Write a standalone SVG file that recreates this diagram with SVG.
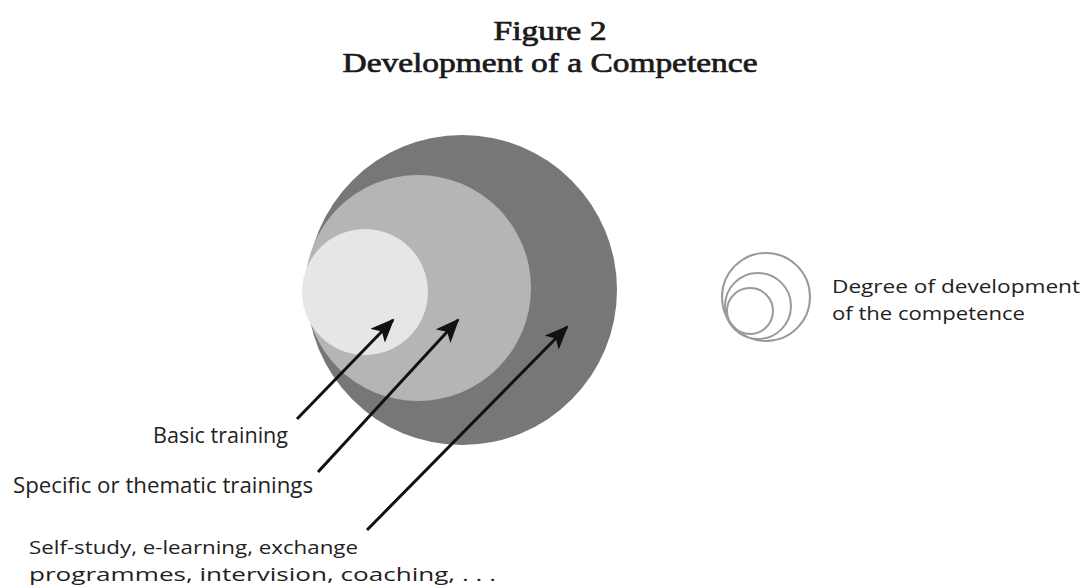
<svg xmlns="http://www.w3.org/2000/svg" width="1086" height="587" viewBox="0 0 1086 587">
<style>
.title{font-family:"Liberation Serif","DejaVu Serif",serif;font-size:27px;font-weight:normal;fill:#1a1a1a;stroke:#1a1a1a;stroke-width:0.7;text-anchor:middle}
.lbl{font-family:"Open Sans","Noto Sans","Liberation Sans",sans-serif;font-size:21px;fill:#222}
.lbl2{font-family:"Open Sans","Noto Sans","Liberation Sans",sans-serif;font-size:19px;fill:#222}
.arrow{stroke:#111;stroke-width:3;fill:none;marker-end:url(#ah)}
.ring{fill:none;stroke:#9a9a9a;stroke-width:2}
</style>
<defs>
<marker id="ah" markerUnits="userSpaceOnUse" markerWidth="24" markerHeight="20" viewBox="0 0 24 20" refX="22" refY="10" orient="auto">
<path d="M0,0 L24,10 L0,20 L6,10 Z" fill="#111"/>
</marker>
</defs>
<rect width="1086" height="587" fill="#ffffff"/>
<g id="title">
<text class="title" x="550" y="40" textLength="113" lengthAdjust="spacingAndGlyphs">Figure 2</text>
<text class="title" x="550" y="72" textLength="415" lengthAdjust="spacingAndGlyphs">Development of a Competence</text>
</g>
<g id="circles">
<circle id="outer" cx="462" cy="290" r="155" fill="#777777"/>
<circle id="middle" cx="418" cy="288" r="113" fill="#b5b5b5"/>
<circle id="inner" cx="365" cy="292" r="63" fill="#e6e6e6"/>
</g>
<g id="connectors">
<line class="arrow" x1="297" y1="419" x2="393" y2="320"/>
<line class="arrow" x1="318" y1="472" x2="458" y2="320"/>
<line class="arrow" x1="367" y1="530" x2="567" y2="327"/>
</g>
<g id="labels">
<text class="lbl" x="153" y="443" textLength="135" lengthAdjust="spacingAndGlyphs">Basic training</text>
<text class="lbl" x="13" y="493" textLength="300" lengthAdjust="spacingAndGlyphs">Specific or thematic trainings</text>
<text class="lbl2" x="29" y="554" textLength="329" lengthAdjust="spacingAndGlyphs">Self-study, e-learning, exchange</text>
<text class="lbl2" x="29" y="581" textLength="467" lengthAdjust="spacingAndGlyphs">programmes, intervision, coaching, . . .</text>
</g>
<g id="legend">
<circle class="ring" cx="766" cy="297" r="44"/>
<circle class="ring" cx="758" cy="306" r="33"/>
<circle class="ring" cx="750" cy="311" r="23"/>
<text class="lbl2" x="832" y="293" textLength="248" lengthAdjust="spacingAndGlyphs">Degree of development</text>
<text class="lbl2" x="832" y="320" textLength="193" lengthAdjust="spacingAndGlyphs">of the competence</text>
</g>
</svg>
